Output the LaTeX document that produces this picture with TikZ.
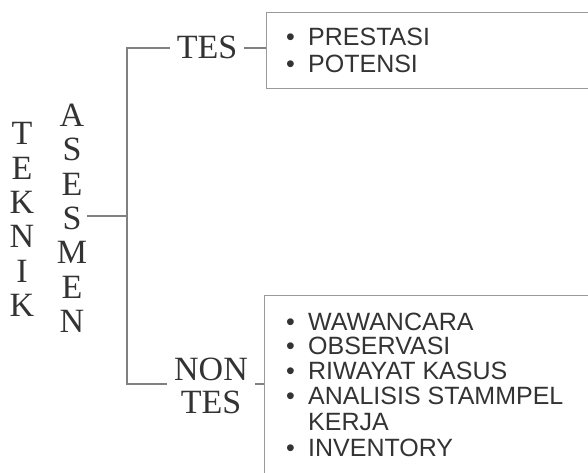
\documentclass[tikz,border=0pt]{standalone}
\usepackage{fontspec}
\setmainfont{Liberation Serif}
\newfontfamily\listfont{Liberation Sans}
\definecolor{ink}{HTML}{333333}
\definecolor{rulec}{HTML}{808080}
\definecolor{framec}{HTML}{9A9A9A}
\begin{document}
\begin{tikzpicture}[x=1pt,y=-1pt,
  conn/.style={draw=rulec,line width=1.3pt},
  vstack/.style={font=\fontsize{34}{34.3}\selectfont, text=ink, inner sep=0pt, align=center, anchor=north},
  lab/.style={font=\fontsize{34}{33}\selectfont, text=ink, inner ysep=0pt, inner xsep=7pt, align=center},
  item/.style={font=\listfont\fontsize{25}{26}\selectfont, text=ink, inner sep=0pt, anchor=base west},
  boxframe/.style={draw=framec, line width=1.4pt, inner sep=0pt, anchor=north west}]
\useasboundingbox (0,0) rectangle (588,472);
% left vertical titles
\node[vstack] (teknik) at (22,122.5) {T\\E\\K\\N\\I\\K};
\node[vstack] (asesmen) at (72,104) {A\\S\\E\\S\\M\\E\\N};
% branch labels
\node[lab, anchor=base] (tes) at (207,58) {TES};
\node[lab, anchor=north] (nontes) at (211,357.5) {NON\\TES};
% boxes (cut off at the right and bottom edges)
\node[boxframe, minimum width=340pt, minimum height=76pt] (box1) at (266,12) {};
\node[boxframe, minimum width=340pt, minimum height=200pt] (box2) at (264,295) {};
% connectors
\coordinate (top) at (127,48);
\coordinate (mid) at (127,216);
\coordinate (bot) at (127,384);
\draw[conn] (asesmen.east |- mid) -- (mid);
\draw[conn] (tes.west |- top) -- (top) -- (bot) -- (nontes.west |- bot);
\draw[conn] (tes.east |- top) -- (box1.west |- top);
\draw[conn] (nontes.east |- bot) -- (box2.west |- bot);
% list items
\node[item] (i1) at (286,45) {\makebox[22pt][l]{•}PRESTASI};
\node[item] (i2) at (286,72) {\makebox[22pt][l]{•}POTENSI};
\node[item] (j1) at (286,330) {\makebox[22pt][l]{•}WAWANCARA};
\node[item] (j2) at (286,354.5) {\makebox[22pt][l]{•}OBSERVASI};
\node[item] (j3) at (286,379) {\makebox[22pt][l]{•}RIWAYAT KASUS};
\node[item] (j4) at (286,404) {\makebox[22pt][l]{•}ANALISIS STAMMPEL};
\node[item] (j5) at (308,430) {KERJA};
\node[item] (j6) at (286,456) {\makebox[22pt][l]{•}INVENTORY};
\end{tikzpicture}
\end{document}
